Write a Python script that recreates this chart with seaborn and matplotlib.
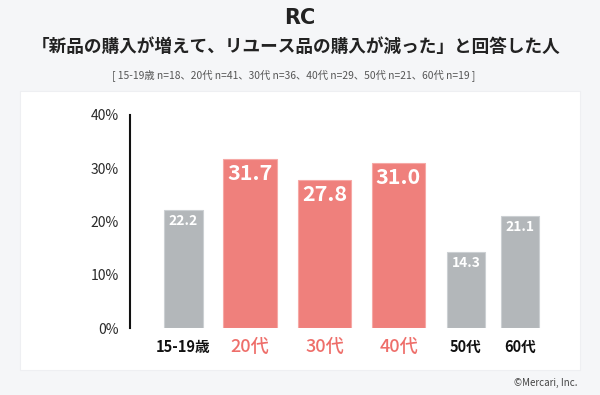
import matplotlib
matplotlib.use("Agg")
import matplotlib.pyplot as plt
import matplotlib.patches as mpatches
import seaborn as sns
import pandas as pd

# ---- data ----
categories = ["15-19歳", "20代", "30代", "40代", "50代", "60代"]
values = [22.2, 31.7, 27.8, 31.0, 14.3, 21.1]
highlight = [False, True, True, True, False, False]
y_ticks = [0, 10, 20, 30, 40]
y_tick_labels = ["0%", "10%", "20%", "30%", "40%"]
title = "「新品の購入が増えて、リユース品の購入が減った」と回答した人"
subtitle = "[ 15-19歳 n=18、20代 n=41、30代 n=36、40代 n=29、50代 n=21、60代 n=19 ]"

# ---- layout (bar centres / widths along the x axis, in axis units) ----
positions = [53.5, 120, 194.5, 268.5, 336, 390]
bar_widths = [39, 54, 53, 53, 38, 38]

sns.set_theme(style="white")
plt.rcParams['font.family'] = ['Noto Sans CJK JP', 'DejaVu Sans']

GRAY = "#b3b7ba"
RED = "#ef807c"
BG = "#f5f6f8"

df = pd.DataFrame({"pos": positions, "value": values, "cat": categories,
                   "group": ["hi" if h else "lo" for h in highlight]})

fig = plt.figure(figsize=(6, 3.95), dpi=100)
fig.patch.set_facecolor(BG)

# white panel
panel = mpatches.Rectangle((20/600, 25/395), 560/600, 279/395,
                           transform=fig.transFigure, facecolor="white",
                           edgecolor="#eeeff2", lw=0.8, zorder=-5)
fig.patches.append(panel)

ax = fig.add_axes([130/600, (395-328)/395, 430/600, 213/395])
ax.set_facecolor("none")
ax.set_zorder(2)

sns.barplot(data=df, x="pos", y="value", hue="group",
            palette={"hi": RED, "lo": GRAY}, native_scale=True, saturation=1,
            dodge=False, legend=False, ax=ax, width=0.8)

# adjust bar widths / edges
bars = [p for p in ax.patches if p.get_height() > 0]
bars.sort(key=lambda p: p.get_x())
for p, w, h in zip(bars, bar_widths, highlight):
    cx = p.get_x() + p.get_width() / 2
    p.set_width(w)
    p.set_x(cx - w / 2)
    p.set_edgecolor("#f6a9a6" if h else "#ccd0d3")
    p.set_linewidth(0.8)

ax.set_xlim(0, 430)
ax.set_ylim(0, 40)
ax.set_yticks(y_ticks)
ax.set_yticklabels(y_tick_labels, fontsize=10, color="#2a2a2a")
ax.tick_params(axis="y", length=0, pad=8)
ax.set_xticks(positions)
ax.set_xticklabels([])
ax.tick_params(axis="x", length=0)
ax.set_xlabel("")
ax.set_ylabel("")
for s in ["top", "right", "bottom"]:
    ax.spines[s].set_visible(False)
ax.spines["left"].set_color("#111111")
ax.spines["left"].set_linewidth(1.5)

# category labels
for x, c, h in zip(positions, categories, highlight):
    if h:
        ax.text(x, -3.6, c, ha="center", va="center", fontsize=13,
                color="#ee6e6a", fontweight="medium", clip_on=False)
    else:
        ax.text(x, -3.6, c, ha="center", va="center", fontsize=10.5,
                color="#111111", fontweight="bold", clip_on=False)

# value labels
for x, v, h in zip(positions, values, highlight):
    if h:
        ax.text(x, v - 2.7, f"{v:.1f}", ha="center", va="center",
                fontsize=15.5, color="white", fontweight="bold")
    else:
        ax.text(x, v - 2.1, f"{v:.1f}", ha="center", va="center",
                fontsize=10, color="white", fontweight="bold")

# header texts
fig.text(0.5, 1 - 18/395, "RC", ha="center", va="center", fontsize=15,
         color="#222222", fontweight="bold", family="DejaVu Sans")
fig.text(296/600, 1 - 47/395, title, ha="center", va="center", fontsize=12.7,
         fontweight="bold", color="#222222")
fig.text(294/600, 1 - 75/395, subtitle, ha="center", va="center", fontsize=7.4,
         color="#555555")
fig.text(578/600, 1 - 383/395, "©Mercari, Inc.", ha="right", va="center",
         fontsize=7, color="#444444")

fig.savefig("out.png", dpi=100, facecolor=BG)
